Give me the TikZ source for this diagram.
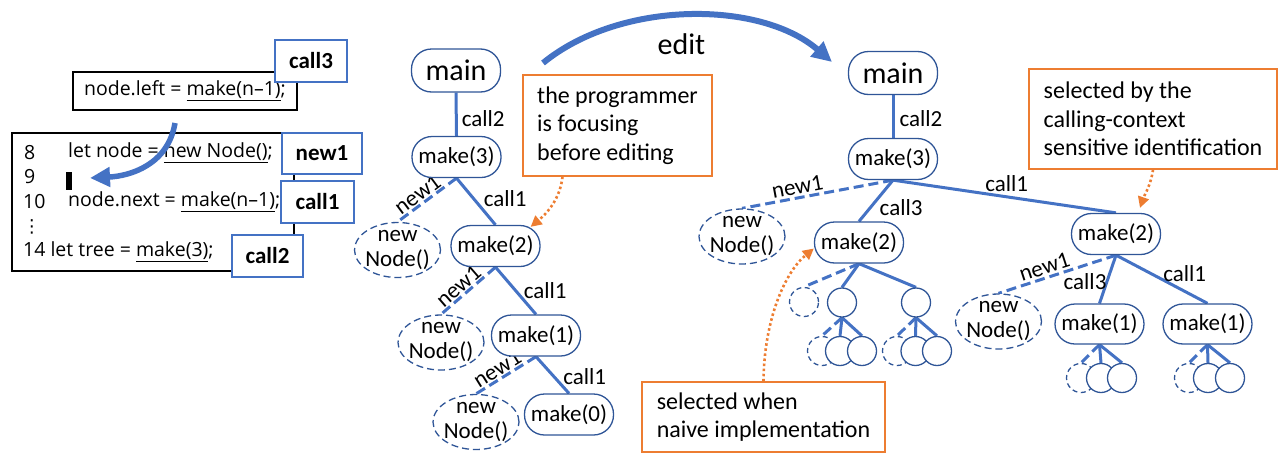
\documentclass[tikz,border=0pt]{standalone}
\usepackage{fontspec}
\setmainfont{Carlito}
\newfontfamily\codefont{Open Sans}
\newfontfamily\symfont{DejaVu Sans}
\usetikzlibrary{arrows.meta,shapes.geometric}
\definecolor{edgeblue}{HTML}{4472C4}
\definecolor{nodeblue}{HTML}{2F5597}
\definecolor{accent}{HTML}{ED7D31}
\pgfdeclarelayer{bg}
\pgfsetlayers{bg,main}
\begin{document}
\begin{tikzpicture}[x=1pt,y=-1pt,
  every node/.style={inner sep=0pt},
  fn/.style={draw=nodeblue, line width=1.3pt, rounded corners=20pt, fill=white,
    minimum width=89pt, minimum height=41pt, font=\fontsize{23}{23}\selectfont},
  mainnd/.style={fn, minimum height=43pt, font=\fontsize{30}{30}\selectfont},
  newnd/.style={ellipse, draw=nodeblue, line width=1.3pt, dash pattern=on 7pt off 4pt,
    fill=white, minimum width=86pt, minimum height=55pt,
    label={[font=\fontsize{23}{25}\selectfont, align=center]center:new\\Node()}},
  leaf/.style={circle, draw=nodeblue, line width=1.3pt, fill=white, minimum size=29pt},
  leafd/.style={leaf, dash pattern=on 5pt off 3.5pt},
  sol/.style={edgeblue, line width=3pt},
  dsh/.style={edgeblue, line width=3pt, dash pattern=on 10pt off 5pt},
  lbl/.style={text=black, font=\fontsize{23}{23}\selectfont},
  tag/.style={draw=edgeblue, line width=1.3pt, fill=white, font=\bfseries\fontsize{23}{23}\selectfont},
  codetxt/.style={font=\codefont\fontsize{19.5}{20}\selectfont},
  note/.style={draw=accent, line width=1.3pt, fill=white, align=left,
    font=\fontsize{24}{28.5}\selectfont},
  pointer/.style={accent, line width=2.6pt, dash pattern=on 2.5pt off 2.6pt,
    -{Triangle[length=11pt,width=11pt]}},
  bigarrow/.style={edgeblue, line width=6pt, -{Triangle[length=20pt,width=19pt]}}
]
\useasboundingbox (0,0) rectangle (1278,453);

% ---------- source code panel ----------
\node[draw, line width=1.3pt, minimum width=282pt, minimum height=138pt] (code) at (153,202) {};
\node[draw, line width=1.3pt, minimum width=224pt, minimum height=38pt, codetxt] (stmt) at (185,91)
  {node.left = \underline{make(n–1)};};
\node[codetxt, anchor=west] (n8) at (24,153) {8};
\node[codetxt, anchor=west] (c8) at (68,153) {let node = \underline{new Node()};};
\node[codetxt, anchor=west] (n9) at (24,177) {9};
\node[fill=black, minimum width=6pt, minimum height=18pt] (cursor) at (69,180.5) {};
\node[codetxt, anchor=west] (n10) at (23,202) {10};
\node[codetxt, anchor=west] (c10) at (68,202) {node.next = \underline{make(n–1)};};
\node[font=\symfont\fontsize{18}{18}\selectfont] (dots) at (32,227) {⋮};
\node[codetxt, anchor=west] (c14) at (23,252) {14 let tree = \underline{make(3)};};

\node[tag, minimum width=72pt, minimum height=42pt] (t3) at (311,61) {call3};
\node[tag, minimum width=80pt, minimum height=41pt] (tn) at (322,153.5) {new1};
\node[tag, minimum width=73pt, minimum height=42pt] (t1) at (317.5,202) {call1};
\node[tag, minimum width=71pt, minimum height=42pt] (t2) at (267.5,256) {call2};

\coordinate (mvA) at (175,123);
\coordinate (mvB) at (90,178);
\draw[bigarrow, line width=5.5pt] (mvA) .. controls (168,165) and (130,176) .. (mvB);

% ---------- call tree before the edit ----------
\node[mainnd] (mA) at (456,70.5) {main};
\node[fn] (m3) at (456.5,157) {make(3)};
\node[fn] (m2) at (495.5,246) {make(2)};
\node[fn] (m1) at (536,335.5) {make(1)};
\node[fn] (m0) at (569,414.5) {make(0)};
\node[newnd] (n1) at (397.5,250) {};
\node[newnd] (n2) at (441,342.5) {};
\node[newnd] (n3) at (476,422) {};

\node[note, minimum width=189pt, minimum height=101pt] (focus) at (617.5,125.5)
  {the programmer\\is focusing\\before editing};

% ---------- edit arrow ----------
\coordinate (edA) at (543,63);
\coordinate (edB) at (832,62);
\draw[bigarrow] (edA) .. controls (620,0) and (760,0) ..
  node[pos=0.5, anchor=north, yshift=-15pt, xshift=-8pt, text=black, font=\fontsize{30}{30}\selectfont] (edl) {edit} (edB);

% ---------- call tree after the edit ----------
\node[mainnd] (rA) at (893,73) {main};
\node[fn] (r3) at (893,159) {make(3)};
\node[fn] (r2a) at (859,242.5) {make(2)};
\node[fn] (r2b) at (1116,234) {make(2)};
\node[newnd] (rn1) at (742,236.5) {};
\node[newnd] (rn2) at (998.5,321.5) {};
\node[fn, minimum height=40pt] (r1a) at (1099.5,324) {make(1)};
\node[fn, minimum height=40pt] (r1b) at (1207.5,324) {make(1)};

% subtree under the left make(2)
\node[leafd] (la0) at (804,302) {};
\node[leaf] (la1) at (842,302.5) {};
\node[leaf] (la2) at (916,302.5) {};
\node[leafd] (lb0) at (822,351) {};
\node[leaf] (lb1) at (840,351) {};
\node[leaf] (lb2) at (862,351) {};
\node[leafd] (lc0) at (897,351) {};
\node[leaf] (lc1) at (915.5,351) {};
\node[leaf] (lc2) at (937,351) {};
% subtrees under the two make(1)
\node[leafd] (ld0) at (1081,378) {};
\node[leaf] (ld1) at (1101,378) {};
\node[leaf] (ld2) at (1122,378) {};
\node[leafd] (le0) at (1189,378) {};
\node[leaf] (le1) at (1208,378) {};
\node[leaf] (le2) at (1230,378) {};

\node[note, minimum width=248pt, minimum height=100pt] (ctx) at (1153,119)
  {selected by the\\calling-context\\sensitive identification};
\node[note, minimum width=243pt, minimum height=70pt] (naive) at (763.5,417)
  {selected when\\naive implementation};

\draw[pointer] ([xshift=-55pt]focus.south) .. controls (560,200) and (546,214) .. ([xshift=-10pt,yshift=-2pt]m2.north east);
\draw[pointer] (ctx.south) .. controls (1151,185) and (1144,196) .. ([xshift=24pt,yshift=5pt]r2b.north);
\draw[pointer] (naive.north) .. controls (764,320) and (785,272) .. ([yshift=-6pt]r2a.west);

% ---------- connectors ----------
\begin{pgfonlayer}{bg}
\draw[sol] (mA.south) -- node[lbl, pos=0.6, anchor=west, xshift=4pt] (e1) {call2} (m3.north);
\draw[sol] (m3.south) -- node[lbl, pos=0.43, anchor=west, xshift=9pt] (e2) {call1} (m2.north);
\draw[dsh] (m3.south) -- node[lbl, pos=0.56, sloped, above=1pt] (e3) {new1} (n1.north);
\draw[sol] (m2.south) -- node[lbl, pos=0.49, anchor=west, xshift=7pt] (e4) {call1} (m1.north);
\draw[dsh] (m2.south) -- node[lbl, pos=0.56, sloped, above=1pt] (e5) {new1} (n2.north);
\draw[sol] (m1.south) -- node[lbl, pos=0.54, anchor=west, xshift=8pt] (e6) {call1} (m0.north);
\draw[dsh] (m1.south) -- node[lbl, pos=0.56, sloped, above=1pt] (e7) {new1} (n3.north);

\draw[sol] (rA.south) -- node[lbl, pos=0.55, anchor=west, xshift=5pt] (f1) {call2} (r3.north);
\draw[dsh] (r3.south) -- node[lbl, pos=0.62, sloped, above=2pt] (f2) {new1} (rn1.north);
\draw[sol] (r3.south) -- node[lbl, pos=0.67, anchor=west, xshift=8pt] (f3) {call3} (r2a.north);
\draw[sol] (r3.south) -- node[lbl, pos=0.51, above=4pt] (f4) {call1} (r2b.north);
\draw[dsh] (r2b.south) -- node[lbl, pos=0.58, sloped, above=2pt] (f5) {new1} (rn2.north);
\draw[sol] (r2b.south) -- node[lbl, pos=0.55, anchor=east, xshift=1pt] (f6) {call3} (r1a.north);
\draw[sol] (r2b.south) -- node[lbl, pos=0.5, anchor=west, yshift=6pt] (f7) {call1} (r1b.north);

\draw[dsh] (r2a.south) -- (la0.north);
\draw[sol] (r2a.south) -- (la1.north);
\draw[sol] (r2a.south) -- (la2.north);
\draw[dsh] (la1.south) -- (lb0.north);
\draw[sol] (la1.south) -- (lb1.north);
\draw[sol] (la1.south) -- (lb2.north);
\draw[dsh] (la2.south) -- (lc0.north);
\draw[sol] (la2.south) -- (lc1.north);
\draw[sol] (la2.south) -- (lc2.north);
\draw[dsh] (r1a.south) -- (ld0.north);
\draw[sol] (r1a.south) -- (ld1.north);
\draw[sol] (r1a.south) -- (ld2.north);
\draw[dsh] (r1b.south) -- (le0.north);
\draw[sol] (r1b.south) -- (le1.north);
\draw[sol] (r1b.south) -- (le2.north);
\end{pgfonlayer}
\end{tikzpicture}
\end{document}
